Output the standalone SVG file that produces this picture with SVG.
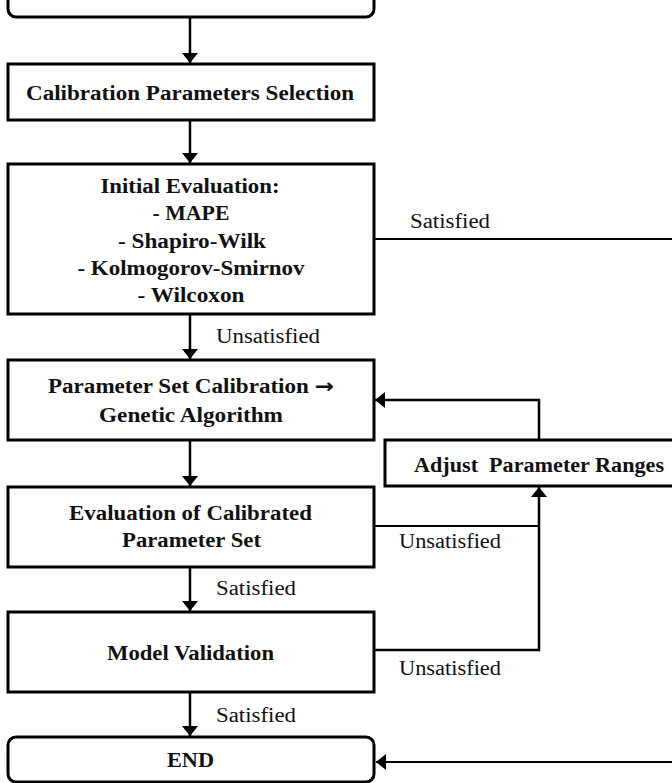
<svg xmlns="http://www.w3.org/2000/svg" width="672" height="783" viewBox="0 0 672 783">
<defs>
<style>
.box{fill:#fff;stroke:#000;stroke-width:3}
.b{font-family:'Liberation Serif','DejaVu Serif',serif;font-weight:bold;font-size:20px;fill:#111;text-anchor:middle}
.l{font-family:'Liberation Serif','DejaVu Serif',serif;font-size:20px;fill:#111}
.c{fill:none;stroke:#000;stroke-width:2.5}
.t{fill:none;stroke:#000;stroke-width:2}
.arr{font-family:'DejaVu Sans',sans-serif;font-weight:bold}
</style>
<marker id="ah" viewBox="0 0 10 16" refX="10" refY="8" markerWidth="10" markerHeight="16" markerUnits="userSpaceOnUse" orient="auto">
<path d="M0,0 L10,8 L0,16 z" fill="#000"/>
</marker>
</defs>
<rect width="672" height="783" fill="#fff"/>
<g id="connectors">
<line class="c" x1="190" y1="17" x2="190" y2="63" marker-end="url(#ah)"/>
<line class="c" x1="190" y1="120" x2="190" y2="163" marker-end="url(#ah)"/>
<line class="c" x1="190" y1="314" x2="190" y2="359" marker-end="url(#ah)"/>
<line class="c" x1="190" y1="440" x2="190" y2="486" marker-end="url(#ah)"/>
<line class="c" x1="190" y1="567" x2="190" y2="611" marker-end="url(#ah)"/>
<line class="c" x1="190" y1="692" x2="190" y2="736" marker-end="url(#ah)"/>
<line class="t" x1="374" y1="239" x2="672" y2="239"/>
<line class="t" x1="672" y1="762" x2="376" y2="762" marker-end="url(#ah)"/>
<polyline class="c" points="539,440 539,400 375,400" marker-end="url(#ah)"/>
<polyline class="t" points="374,526 539,526"/>
<polyline class="c" points="374,650 539,650 539,487" marker-end="url(#ah)"/>
<text class="l" x="410" y="228" textLength="80" lengthAdjust="spacingAndGlyphs">Satisfied</text>
<text class="l" x="216" y="343" textLength="104" lengthAdjust="spacingAndGlyphs">Unsatisfied</text>
<text class="l" x="399" y="548" textLength="102" lengthAdjust="spacingAndGlyphs">Unsatisfied</text>
<text class="l" x="216" y="595" textLength="80" lengthAdjust="spacingAndGlyphs">Satisfied</text>
<text class="l" x="399" y="675" textLength="102" lengthAdjust="spacingAndGlyphs">Unsatisfied</text>
<text class="l" x="216" y="722" textLength="80" lengthAdjust="spacingAndGlyphs">Satisfied</text>
</g>
<g id="start">
<rect class="box" x="8" y="-40" width="366" height="57" rx="8"/>
</g>
<g id="calib-selection">
<rect class="box" x="8" y="64" width="366" height="56"/>
<text class="b" x="190" y="100" textLength="328" lengthAdjust="spacingAndGlyphs">Calibration Parameters Selection</text>
</g>
<g id="initial-evaluation">
<rect class="box" x="8" y="164" width="366" height="150"/>
<text class="b" x="190" y="193" textLength="179" lengthAdjust="spacingAndGlyphs">Initial Evaluation:</text>
<text class="b" x="191" y="220" textLength="77" lengthAdjust="spacingAndGlyphs">- MAPE</text>
<text class="b" x="192" y="248" textLength="148" lengthAdjust="spacingAndGlyphs">- Shapiro-Wilk</text>
<text class="b" x="191" y="275" textLength="227" lengthAdjust="spacingAndGlyphs">- Kolmogorov-Smirnov</text>
<text class="b" x="191" y="302" textLength="107" lengthAdjust="spacingAndGlyphs">- Wilcoxon</text>
</g>
<g id="param-set-calibration">
<rect class="box" x="8" y="360" width="366" height="80"/>
<text class="b" x="191" y="393" textLength="286" lengthAdjust="spacingAndGlyphs">Parameter Set Calibration <tspan class="arr">→</tspan></text>
<text class="b" x="191" y="422" textLength="184" lengthAdjust="spacingAndGlyphs">Genetic Algorithm</text>
</g>
<g id="adjust-ranges">
<rect class="box" x="385" y="440" width="310" height="46"/>
<text class="b" x="539" y="472" textLength="250" lengthAdjust="spacingAndGlyphs" style="white-space:pre">Adjust  Parameter Ranges</text>
</g>
<g id="evaluation-calibrated">
<rect class="box" x="8" y="487" width="366" height="80"/>
<text class="b" x="190.5" y="520" textLength="243" lengthAdjust="spacingAndGlyphs">Evaluation of Calibrated</text>
<text class="b" x="191.5" y="547" textLength="139" lengthAdjust="spacingAndGlyphs">Parameter Set</text>
</g>
<g id="model-validation">
<rect class="box" x="8" y="612" width="366" height="80"/>
<text class="b" x="190.5" y="660" textLength="167" lengthAdjust="spacingAndGlyphs">Model Validation</text>
</g>
<g id="end">
<rect class="box" x="8" y="737" width="366" height="45" rx="8"/>
<text class="b" x="190.5" y="767" textLength="47" lengthAdjust="spacingAndGlyphs">END</text>
</g>
</svg>
